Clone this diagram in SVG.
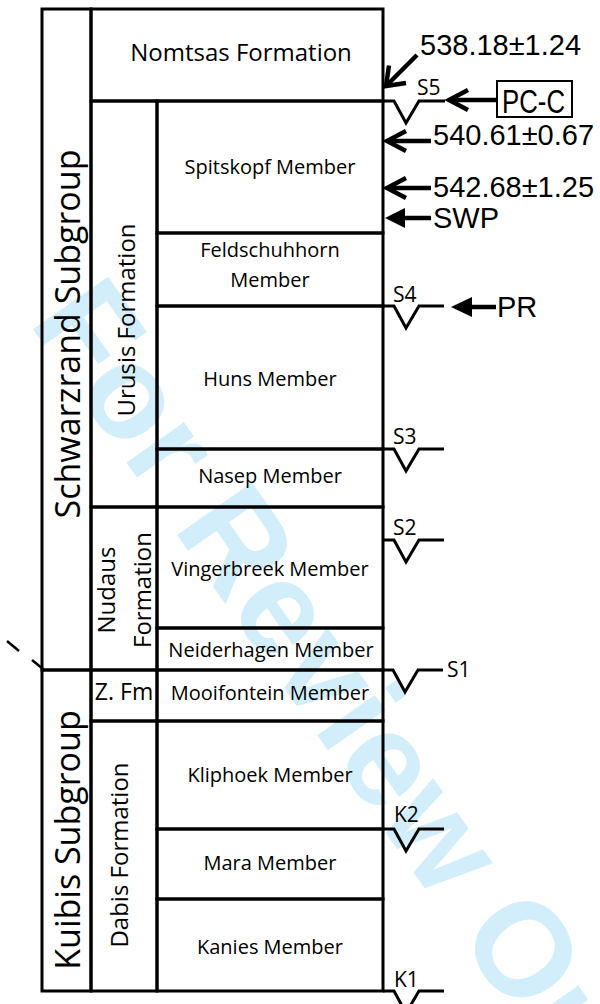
<svg xmlns="http://www.w3.org/2000/svg" width="600" height="1004" viewBox="0 0 600 1004">
<style>
.bx{fill:none;stroke:#000;stroke-width:3}
.t{font-family:"Open Sans","Noto Sans",sans-serif;font-size:20px;fill:#000;text-anchor:middle}
.f{font-size:24px}
.g{font-size:34px}
.s{font-family:"Open Sans","Noto Sans",sans-serif;font-size:21px;fill:#000}
.a{font-family:"Liberation Sans",Arial,sans-serif;font-size:29px;fill:#000}
.un{fill:none;stroke:#000;stroke-width:3;stroke-linejoin:miter}
.sh{fill:none;stroke:#000;stroke-width:4.5}
.ch{fill:none;stroke:#000;stroke-width:4.5;stroke-linejoin:miter;stroke-linecap:butt}
.wm{font-family:"Liberation Sans",Arial,sans-serif;font-weight:bold;font-size:133px;fill:#d3eefb}
</style>
<rect width="600" height="1004" fill="#fff"/>
<text class="wm" transform="translate(28,322) rotate(55)">For Review Only</text>

<g id="schwarzrand"><rect class="bx" x="42" y="9" width="49" height="661"/><text class="t g" transform="translate(80,334) rotate(-90)">Schwarzrand Subgroup</text></g>
<g id="kuibis"><rect class="bx" x="42" y="670" width="49" height="321"/><text class="t g" transform="translate(80,840) rotate(-90)">Kuibis Subgroup</text></g>
<g id="nomtsas"><rect class="bx" x="91" y="9" width="292" height="92"/><text class="t f" x="241" y="61">Nomtsas Formation</text></g>
<g id="urusis"><rect class="bx" x="91" y="101" width="66" height="406"/><text class="t f" transform="translate(135,320) rotate(-90)">Urusis Formation</text></g>
<g id="nudaus"><rect class="bx" x="91" y="507" width="66" height="163"/><text class="t f" transform="translate(115,590) rotate(-90)">Nudaus</text><text class="t f" transform="translate(151,590) rotate(-90)">Formation</text></g>
<g id="zfm"><rect class="bx" x="91" y="670" width="66" height="51"/><text class="t" style="font-size:23px" x="124" y="700">Z. Fm</text></g>
<g id="dabis"><rect class="bx" x="91" y="721" width="66" height="270"/><text class="t f" transform="translate(128,855) rotate(-90)">Dabis Formation</text></g>
<g id="spitskopf"><rect class="bx" x="157" y="101" width="226" height="132"/><text class="t" x="270" y="174">Spitskopf Member</text></g>
<g id="feldschuhhorn"><rect class="bx" x="157" y="233" width="226" height="73"/><text class="t" x="270" y="257">Feldschuhhorn</text><text class="t" x="270" y="287">Member</text></g>
<g id="huns"><rect class="bx" x="157" y="306" width="226" height="143"/><text class="t" x="270" y="386">Huns Member</text></g>
<g id="nasep"><rect class="bx" x="157" y="449" width="226" height="58"/><text class="t" x="270" y="483">Nasep Member</text></g>
<g id="vingerbreek"><rect class="bx" x="157" y="507" width="226" height="121"/><text class="t" x="270" y="576">Vingerbreek Member</text></g>
<g id="neiderhagen"><rect class="bx" x="157" y="628" width="226" height="42"/><text class="t" x="271" y="657">Neiderhagen Member</text></g>
<g id="mooifontein"><rect class="bx" x="157" y="670" width="226" height="51"/><text class="t" x="270" y="700">Mooifontein Member</text></g>
<g id="kliphoek"><rect class="bx" x="157" y="721" width="226" height="108"/><text class="t" x="270" y="782">Kliphoek Member</text></g>
<g id="mara"><rect class="bx" x="157" y="829" width="226" height="70"/><text class="t" x="270" y="870">Mara Member</text></g>
<g id="kanies"><rect class="bx" x="157" y="899" width="226" height="92"/><text class="t" x="270" y="954">Kanies Member</text></g>

<g id="marks" stroke="#000" stroke-width="2.5">
<line x1="7" y1="641" x2="19" y2="651"/>
<line x1="32" y1="660" x2="43" y2="669"/>
</g>

<g id="unconformities">
<path class="un" d="M383 101 H394 L406 123 L419 101 H445"/>
<path class="un" d="M383 306 H394 L406 328 L419 306 H444"/>
<path class="un" d="M383 449 H394 L406 471 L419 449 H444"/>
<path class="un" d="M383 540 H394 L406 562 L419 540 H444"/>
<path class="un" d="M383 670 H393 L405 692 L418 670 H443"/>
<path class="un" d="M383 829 H394 L406 851 L419 829 H444"/>
<path class="un" d="M383 991 H394 L406 1013 L419 991 H444"/>
<text class="s" x="417" y="95">S5</text>
<text class="s" x="393" y="302">S4</text>
<text class="s" x="393" y="444">S3</text>
<text class="s" x="393" y="535">S2</text>
<text class="s" x="447" y="677">S1</text>
<text class="s" x="394" y="822">K2</text>
<text class="s" x="394" y="987">K1</text>
</g>

<g id="connectors">
<line class="sh" x1="417" y1="55" x2="388" y2="84"/>
<path class="ch" d="M406 83 L386 86 L389 65.5"/>
<line class="sh" x1="496" y1="100" x2="450" y2="100"/>
<path class="ch" d="M468 90 L449 100 L468 110"/>
<line class="sh" x1="431" y1="141" x2="388" y2="141"/>
<path class="ch" d="M406 131 L387 141 L406 151"/>
<line class="sh" x1="431" y1="188" x2="388" y2="188"/>
<path class="ch" d="M406 178 L387 188 L406 198"/>
<line class="sh" x1="431" y1="218" x2="400" y2="218"/>
<path d="M385 218 L405 208 L405 228 Z"/>
<line class="sh" x1="496" y1="307" x2="466" y2="307"/>
<path d="M451 307 L472 297 L472 317 Z"/>
</g>

<g id="labels">
<text class="a" x="420" y="55">538.18±1.24</text>
<g id="pcc"><rect x="497" y="81" width="75" height="36" fill="none" stroke="#000" stroke-width="2"/><text class="a" style="font-size:33px" x="502" y="113" textLength="63" lengthAdjust="spacingAndGlyphs">PC-C</text></g>
<text class="a" x="433" y="145">540.61±0.67</text>
<text class="a" x="433" y="197">542.68±1.25</text>
<text class="a" x="433" y="228">SWP</text>
<text class="a" x="497" y="317">PR</text>
</g>
</svg>
